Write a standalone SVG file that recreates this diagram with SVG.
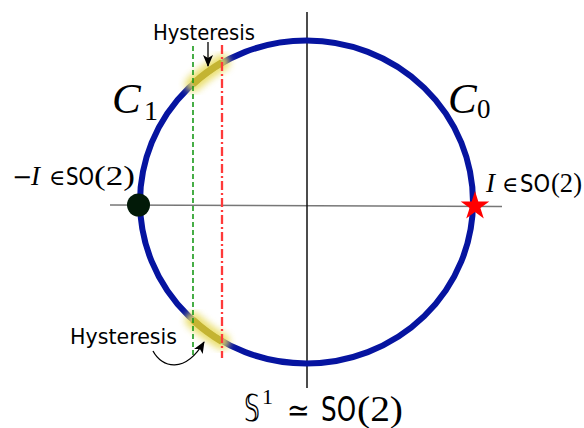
<svg xmlns="http://www.w3.org/2000/svg" width="584" height="428" viewBox="0 0 584 428">
<style>
.hy{font-family:"DejaVu Sans",sans-serif;font-size:22px;fill:#000}
.mi{font-family:"Liberation Serif","DejaVu Serif",serif;font-style:italic;fill:#000}
.mr{font-family:"Liberation Serif","DejaVu Serif",serif;fill:#000}
.ms{font-family:"DejaVu Serif",serif;fill:#000}
.sf{font-family:"DejaVu Sans",sans-serif;fill:#000}
</style>
<defs>
<marker id="ah" markerUnits="userSpaceOnUse" markerWidth="12" markerHeight="12" viewBox="0 0 12 10" refX="11" refY="5" orient="auto">
<path d="M0,0 L12,5 L0,10 L3,5 z" fill="#000"/>
</marker>
<filter id="glow" x="-50%" y="-50%" width="200%" height="200%">
<feGaussianBlur stdDeviation="3.5"/>
</filter>
</defs>
<g id="axes">
<line x1="110" y1="205" x2="502" y2="206.5" stroke="#777" stroke-width="1.5"/>
<line x1="307" y1="12" x2="307" y2="388" stroke="#111" stroke-width="1.5"/>
</g>
<g id="circle">
<ellipse cx="306.5" cy="202" rx="166.5" ry="161.5" fill="none" stroke="#0614a0" stroke-width="6"/>
</g>
<g id="hysteresis-top">
<path d="M193,84 A166.5,161.5 0 0 1 222,62.5" fill="none" stroke="#e8dc60" stroke-width="16" stroke-linecap="round" filter="url(#glow)" opacity="0.9"/>
<path d="M193,84 A166.5,161.5 0 0 1 222,62.5" fill="none" stroke="#c4b432" stroke-width="7"/>
</g>
<g id="hysteresis-bottom">
<path d="M193,320 A166.5,161.5 0 0 0 222,341.5" fill="none" stroke="#e8dc60" stroke-width="16" stroke-linecap="round" filter="url(#glow)" opacity="0.9"/>
<path d="M193,320 A166.5,161.5 0 0 0 222,341.5" fill="none" stroke="#c4b432" stroke-width="7"/>
</g>
<g id="thresholds">
<line x1="193" y1="46" x2="193" y2="356" stroke="#1a9a1a" stroke-width="1.6" stroke-dasharray="5,3"/>
<line x1="222" y1="45" x2="222" y2="358" stroke="#ff3a3a" stroke-width="2.3" stroke-dasharray="9,3,2,3"/>
</g>
<g id="minusI">
<circle cx="138.5" cy="205" r="11.5" fill="#021a08"/>
</g>
<g id="identity">
<polygon points="475,191 478.3,201.5 489.3,201.5 480.4,208 483.8,218.5 475,212 466.2,218.5 469.6,208 460.7,201.5 471.7,201.5" fill="#ff0000"/>
</g>
<g id="connectors">
<line x1="208" y1="42" x2="208" y2="66" stroke="#000" stroke-width="1.3" marker-end="url(#ah)"/>
<path d="M153,351 C162,368 185,374 204,342" fill="none" stroke="#000" stroke-width="1.3" marker-end="url(#ah)"/>
</g>
<g id="labels">
<text class="hy" x="153" y="40" textLength="102" lengthAdjust="spacingAndGlyphs">Hysteresis</text>
<text class="hy" x="70" y="344" textLength="107" lengthAdjust="spacingAndGlyphs">Hysteresis</text>
<text class="mi" x="112" y="113" font-size="43">C</text>
<text class="mr" x="144" y="120" font-size="28">1</text>
<text class="mi" x="448" y="113" font-size="43">C</text>
<text class="mr" x="477" y="118" font-size="27">0</text>
<text class="ms" x="12" y="185" font-size="24">−</text>
<text class="mi" x="31" y="185" font-size="27">I</text>
<text class="ms" x="49" y="185" font-size="22">∈</text>
<text class="sf" x="66" y="185" font-size="25" textLength="28" lengthAdjust="spacingAndGlyphs">SO</text>
<text class="mr" x="94" y="185" font-size="27" textLength="41" lengthAdjust="spacingAndGlyphs">(2)</text>
<text class="mi" x="486" y="192" font-size="27">I</text>
<text class="ms" x="502" y="192" font-size="22">∈</text>
<text class="sf" x="520" y="192" font-size="24" textLength="30" lengthAdjust="spacingAndGlyphs">SO</text>
<text class="mr" x="551" y="192" font-size="27" textLength="31" lengthAdjust="spacingAndGlyphs">(2)</text>
<text class="sf" x="244" y="421" font-size="38" textLength="16" lengthAdjust="spacingAndGlyphs">𝕊</text>
<text class="mr" x="262" y="404" font-size="22">1</text>
<text class="ms" x="287" y="421" font-size="32" textLength="23" lengthAdjust="spacingAndGlyphs">≃</text>
<text class="sf" x="321" y="421" font-size="34" textLength="35" lengthAdjust="spacingAndGlyphs">SO</text>
<text class="mr" x="357" y="421" font-size="35" textLength="46" lengthAdjust="spacingAndGlyphs">(2)</text>
</g>
</svg>
